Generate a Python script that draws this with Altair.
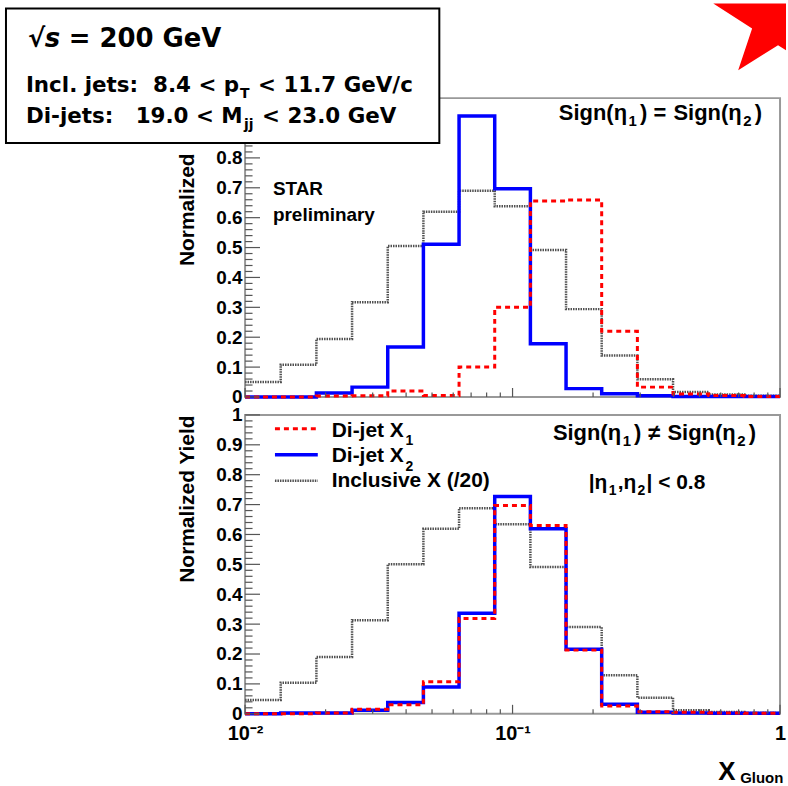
import altair as alt
import pandas as pd

FONT = "Liberation Sans"
BOXFONT = "DejaVu Sans"
NB = "\u00a0"

# ---------------- data ----------------
bin_edges = [0.01, 0.01359, 0.01848, 0.02512, 0.03415, 0.04642, 0.06310, 0.08577,
             0.1166, 0.1585, 0.2154, 0.2929, 0.3981, 0.5412, 0.7356, 1.0]

# upper panel: Sign(eta1) = Sign(eta2)
top_x1 = [0.0, 0.0, 0.003, 0.004, 0.020, 0.005, 0.100, 0.300, 0.656, 0.659, 0.220, 0.033, 0.010, 0.005, 0.002]
top_x2 = [0.0, 0.0, 0.013, 0.033, 0.167, 0.511, 0.940, 0.697, 0.178, 0.028, 0.011, 0.004, 0.002, 0.002, 0.002]
top_incl = [0.050, 0.108, 0.194, 0.317, 0.505, 0.620, 0.690, 0.638, 0.492, 0.294, 0.139, 0.059, 0.017, 0.008, 0.004]

# lower panel: Sign(eta1) != Sign(eta2)
bot_x1 = [0.0, 0.0, 0.003, 0.015, 0.030, 0.107, 0.319, 0.697, 0.630, 0.213, 0.026, 0.007, 0.005, 0.003, 0.002]
bot_x2 = [0.0, 0.003, 0.003, 0.012, 0.038, 0.090, 0.336, 0.727, 0.619, 0.216, 0.032, 0.005, 0.003, 0.002, 0.002]
bot_incl = [0.046, 0.104, 0.190, 0.313, 0.500, 0.619, 0.688, 0.634, 0.491, 0.290, 0.129, 0.054, 0.012, 0.006, 0.003]

y_major = [0, 0.1, 0.2, 0.3, 0.4, 0.5, 0.6, 0.7, 0.8, 0.9, 1.0]
y_minor = [0.02, 0.04, 0.06, 0.08, 0.12, 0.14, 0.16, 0.18, 0.22, 0.24, 0.26, 0.28,
           0.32, 0.34, 0.36, 0.38, 0.42, 0.44, 0.46, 0.48, 0.52, 0.54, 0.56, 0.58,
           0.62, 0.64, 0.66, 0.68, 0.72, 0.74, 0.76, 0.78, 0.82, 0.84, 0.86, 0.88,
           0.92, 0.94, 0.96, 0.98]
x_major = [0.01, 0.1, 1.0]
x_minor = [0.02, 0.03, 0.04, 0.05, 0.06, 0.07, 0.08, 0.09,
           0.2, 0.3, 0.4, 0.5, 0.6, 0.7, 0.8, 0.9]
x_labels = ["10⁻²", "10⁻¹", "1"]

legend_labels = ["Di-jet X", "Di-jet X", "Inclusive X (/20)"]
legend_subs = ["1", "2"]

W, H = 537, 300
XS = alt.Scale(type="log", domain=[0.01, 1.0], nice=False)
YS = alt.Scale(domain=[0, 1], nice=False, zero=False)

RED, BLUE, GRAY = "#ff0000", "#0000ff", "#505050"
TICK = "#555555"
one = pd.DataFrame({"a": [0]})


def steps(vals):
    xs = list(bin_edges[:-1]) + [bin_edges[-1]]
    ys = list(vals) + [vals[-1]]
    return pd.DataFrame({"x": xs, "y": ys})


def y_axis(bottom):
    return alt.Axis(values=y_major, format=".1~f", ticks=False, domain=False, grid=False,
                    labelFont=FONT, labelFontSize=19, labelFontWeight="bold", labelColor="black",
                    labelPadding=3,
                    title="Normalized Yield" if bottom else "Normalized",
                    titleFont=FONT, titleFontSize=21,
                    titleFontWeight="bold", titleColor="black", titleAngle=270, titleAlign="right",
                    titleBaseline="alphabetic", titleX=-52, titleY=0 if bottom else 55)


def x_axis(bottom):
    if not bottom:
        return None
    expr = ("datum.value < 0.05 ? '%s' : (datum.value < 0.5 ? '%s' : '%s')"
            % (x_labels[0], x_labels[1], x_labels[2]))
    return alt.Axis(values=x_major, labelExpr=expr, ticks=False, domain=False, grid=False,
                    labelFlush=False, labelOverlap=False, labelFont=FONT, labelFontSize=20,
                    labelFontWeight="bold", labelColor="black", labelPadding=10, title=None)


def text(t, x, y, size, align="left", style="normal", weight="bold", font=FONT):
    return alt.Chart(one).mark_text(text=t, font=font, fontSize=size, fontWeight=weight,
                                    fontStyle=style, align=align, baseline="alphabetic",
                                    color="black").encode(x=alt.value(x), y=alt.value(y))


def tick_layers(bottom):
    ya = y_axis(bottom)
    xa = x_axis(bottom)
    ymaj = alt.Chart(pd.DataFrame({"y": y_major})).mark_rule(color=TICK, strokeWidth=1.2).encode(
        y=alt.Y("y:Q", scale=YS, axis=ya), x=alt.value(0), x2=alt.value(15))
    ymin = alt.Chart(pd.DataFrame({"y": y_minor})).mark_rule(color=TICK, strokeWidth=1.2).encode(
        y=alt.Y("y:Q", scale=YS, axis=ya), x=alt.value(0), x2=alt.value(7.5))
    xmaj = alt.Chart(pd.DataFrame({"x": x_major})).mark_rule(color=TICK, strokeWidth=1.2).encode(
        x=alt.X("x:Q", scale=XS, axis=xa), y=alt.value(H), y2=alt.value(H - 9))
    xmin = alt.Chart(pd.DataFrame({"x": x_minor})).mark_rule(color=TICK, strokeWidth=1.2).encode(
        x=alt.X("x:Q", scale=XS, axis=xa), y=alt.value(H), y2=alt.value(H - 4.5))
    return [ymaj, ymin, xmaj, xmin]


def hist_layers(x1, x2, incl, bottom):
    def enc(c):
        return c.encode(x=alt.X("x:Q", scale=XS, axis=x_axis(bottom)),
                        y=alt.Y("y:Q", scale=YS, axis=y_axis(bottom)))
    li = enc(alt.Chart(steps(incl)).mark_line(
        interpolate="step-after", color=GRAY, strokeWidth=2.5, strokeDash=[1.5, 1]))
    l2 = enc(alt.Chart(steps(x2)).mark_line(
        interpolate="step-after", color=BLUE, strokeWidth=3.5))
    l1 = enc(alt.Chart(steps(x1)).mark_line(
        interpolate="step-after", color=RED, strokeWidth=3, strokeDash=[5, 4]))
    return [li, l2, l1]


def sign_text(rel, x0, base, size=22, sub=15, drop=6):
    # "Sign(η1) rel Sign(η2)" built from pieces, left edge at x0
    return [
        text("Sign(η", x0, base, size),
        text("1", x0 + 70, base + drop, sub),
        text(")", x0 + 81.5, base, size),
        text(rel, x0 + 101.5, base, size, align="center"),
        text("Sign(η", x0 + 115, base, size),
        text("2", x0 + 185, base + drop, sub),
        text(")", x0 + 196.5, base, size),
    ]


# ---------------- upper panel ----------------
box = alt.Chart(one).mark_rect(fill="white", stroke="black", strokeWidth=2).encode(
    x=alt.value(-240), x2=alt.value(195), y=alt.value(-90), y2=alt.value(45))

star_path = "M -1 -0.918 L 0.068 -0.233 L -0.315 0.918 L 0.781 0.233 L 1 0.370 L 1 -0.918 Z"
star = alt.Chart(one).mark_point(shape=star_path, filled=True, fill="#ff0000", color="#ff0000",
                                 size=5329, opacity=1, strokeWidth=0).encode(
    x=alt.value(506.5), y=alt.value(-61.5))

top_texts = [
    text("√", -218, -51, 26, font=BOXFONT),
    text("s", -201, -51, 26, style="italic", font=BOXFONT),
    text("= 200 GeV", -177, -51, 26, font=BOXFONT),
    text("Incl. jets:" + NB + " 8.4 < p", -220, -6, 21.5, font=BOXFONT),
    text("T", -5, 0, 14, font=BOXFONT),
    text("< 11.7 GeV/c", 13, -6, 21.5, font=BOXFONT),
    text("Di-jets:" + NB + NB + " 19.0 < M", -220, 25, 21.5, font=BOXFONT),
    text("jj", -1, 31, 14, font=BOXFONT),
    text("< 23.0 GeV", 17, 25, 21.5, font=BOXFONT),
    text("STAR", 28, 97, 19),
    text("preliminary", 28, 123, 19),
] + sign_text("=", 315, 22)

top = alt.layer(*hist_layers(top_x1, top_x2, top_incl, False), *tick_layers(False),
                box, *top_texts, star).properties(width=W, height=H)

# ---------------- lower panel ----------------
leg_red = alt.Chart(one).mark_rule(color=RED, strokeWidth=3, strokeDash=[5, 4]).encode(
    x=alt.value(30), x2=alt.value(73), y=alt.value(14))
leg_blue = alt.Chart(one).mark_rule(color=BLUE, strokeWidth=3.5).encode(
    x=alt.value(30), x2=alt.value(73), y=alt.value(40))
leg_gray = alt.Chart(one).mark_rule(color=GRAY, strokeWidth=2.5, strokeDash=[1.5, 1]).encode(
    x=alt.value(30), x2=alt.value(73), y=alt.value(66))

bot_texts = [
    text(legend_labels[0], 87, 22, 21),
    text(legend_subs[0], 161, 30, 14),
    text(legend_labels[1], 87, 47, 21),
    text(legend_subs[1], 161, 56, 14),
    text(legend_labels[2], 87, 72, 21),
    text("|η", 345, 74, 21),
    text("1", 365, 80, 14),
    text(",η", 374, 74, 21),
    text("2", 394, 80, 14),
    text("| < 0.8", 403, 74, 21),
    text("X", 475, 366, 26),
    text("Gluon", 497, 369, 15),
] + sign_text("≠", 309, 25)

bottom = alt.layer(*hist_layers(bot_x1, bot_x2, bot_incl, True), *tick_layers(True),
                   leg_red, leg_blue, leg_gray, *bot_texts).properties(width=W, height=H)

chart = alt.vconcat(top, bottom, spacing=18, bounds="flush").properties(
    padding={"left": 4, "top": 0, "right": 0, "bottom": 0}, background="white"
).configure_view(stroke="#999999", strokeWidth=2)

chart.save("out.html", embed_options={"renderer": "svg", "actions": False})
